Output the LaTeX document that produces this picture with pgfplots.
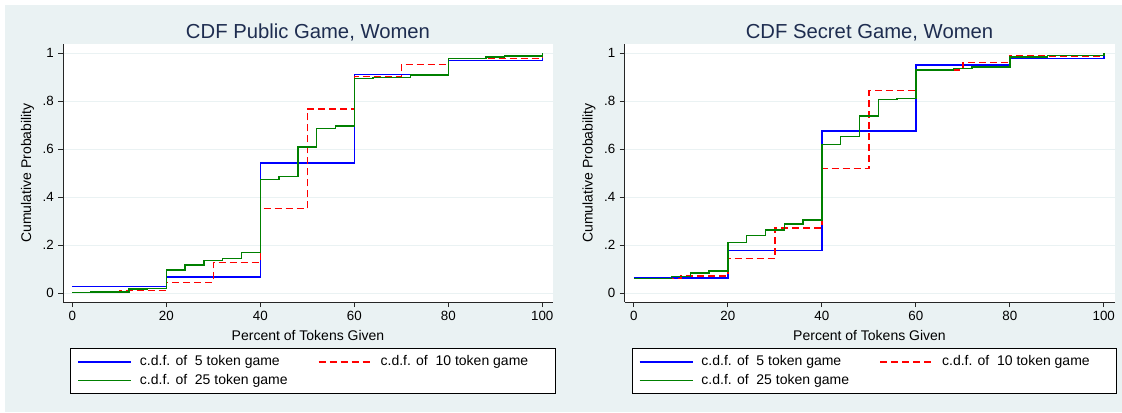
\documentclass[border=0pt]{standalone}
\usepackage{pgfplots}
\pgfplotsset{compat=1.18}
\usepackage{fontspec}
\setmainfont{Liberation Sans}
\definecolor{bgc}{RGB}{234,242,243}
\definecolor{gridc}{RGB}{234,242,243}
\definecolor{titlec}{RGB}{30,45,80}
\definecolor{sblue}{RGB}{0,0,255}
\definecolor{sred}{RGB}{255,0,0}
\definecolor{sgreen}{RGB}{0,128,0}
\pgfplotsset{
 cdfaxis/.style={
  scale only axis, width=367.5pt, height=193.5pt,
  xmin=-2, xmax=102.28, ymin=-0.03625, ymax=1.03875,
  axis x line*=bottom, axis y line*=left,
  axis line style={-, line width=0.75pt, black!85},
  axis background/.style={fill=white},
  tick align=outside, major tick length=3.75pt,
  every tick/.style={line width=0.75pt, black!85},
  xtick={0,20,40,60,80,100}, xticklabels={0,20,40,60,80,100},
  ytick={0,0.2,0.4,0.6,0.8,1}, yticklabels={0,.2,.4,.6,.8,1},
  ymajorgrids, grid style={gridc, line width=0.75pt},
  ticklabel style={font=\fontsize{10}{12}\selectfont, inner sep=0pt},
  xticklabel style={yshift=-3pt},
  yticklabel style={xshift=-3pt},
  label style={font=\fontsize{10.5}{12}\selectfont},
  every axis title shift=0pt,
  title style={font=\fontsize{15.2}{18}\selectfont, text=titlec, at={(axis description cs:0.5,1)}, anchor=base, yshift=4.5pt},
  xlabel style={at={(axis description cs:0.5,-0.1298)}, anchor=center},
  ylabel style={at={(axis description cs:-0.0725,0.5)}, anchor=center},
  xlabel={Percent of Tokens Given},
  ylabel={Cumulative Probability},
  legend columns=2,
  legend image code/.code={\draw[#1] (0pt,0pt) -- (39.75pt,0pt);},
  legend style={at={(axis description cs:0.0151,-0.1795)}, anchor=north west,
    draw=black, line width=0.75pt, fill=white,
    inner xsep=4.8pt, inner ysep=5pt, row sep=4.5pt, column sep=0pt,
    font=\fontsize{10.5}{12}\selectfont,
    nodes={inner sep=0pt, text height=7.5pt, text depth=2pt},
    /tikz/every odd column/.append style={column sep=6.15pt},
    /tikz/every even column/.append style={column sep=0pt}},
 },
 sb/.style={const plot, sblue, line width=1.1pt},
 sr/.style={const plot, sred, line width=1.1pt, dash pattern=on 5.25pt off 3pt},
 sg/.style={const plot, sgreen, line width=1.1pt},
}
\newcommand{\la}[1]{\makebox[133.5pt][l]{#1}}
\newcommand{\lb}[1]{\makebox[126pt][l]{#1}}
\begin{document}
\begin{tikzpicture}
\fill[white] (0pt,0pt) rectangle (841.5pt,309pt);
\fill[bgc] (3.75pt,0pt) rectangle (841.5pt,305.25pt);
\begin{axis}[cdfaxis, at={(47.25pt,82.5pt)}, anchor=south west, title={CDF Public Game, Women}]
\addplot[sb] coordinates {(0,0.028) (20,0.067) (40,0.543) (60,0.911) (80,0.971) (100,1)};
\addplot[sr] coordinates {(0,0.004) (10,0.011) (20,0.046) (30,0.128) (40,0.353) (50,0.767) (60,0.903) (70,0.953) (80,0.978) (100,1)};
\addplot[sg] coordinates {(0,0.004) (4,0.006) (12,0.017) (16,0.021) (20,0.098) (24,0.118) (28,0.136) (32,0.146) (36,0.171) (40,0.475) (44,0.486) (48,0.61) (52,0.686) (56,0.698) (60,0.894) (64,0.9) (72,0.91) (80,0.978) (88,0.985) (92,0.989) (100,1)};
\legend{\la{c.d.f. of~~5 token game},\lb{c.d.f. of~~10 token game},\la{c.d.f. of~~25 token game}}
\end{axis}
\begin{axis}[cdfaxis, at={(468.375pt,82.5pt)}, anchor=south west, title={CDF Secret Game, Women}]
\addplot[sb] coordinates {(0,0.064) (20,0.178) (40,0.676) (60,0.951) (80,0.979) (100,1)};
\addplot[sr] coordinates {(0,0.061) (10,0.073) (20,0.146) (30,0.273) (40,0.521) (50,0.844) (60,0.93) (70,0.961) (80,0.988) (100,1)};
\addplot[sg] coordinates {(0,0.061) (8,0.071) (12,0.085) (16,0.093) (20,0.212) (24,0.24) (28,0.264) (32,0.289) (36,0.305) (40,0.621) (44,0.653) (48,0.739) (52,0.808) (56,0.8125) (60,0.93) (68,0.936) (72,0.942) (80,0.985) (88,0.99) (100,1)};
\legend{\la{c.d.f. of~~5 token game},\lb{c.d.f. of~~10 token game},\la{c.d.f. of~~25 token game}}
\end{axis}
\end{tikzpicture}
\end{document}
